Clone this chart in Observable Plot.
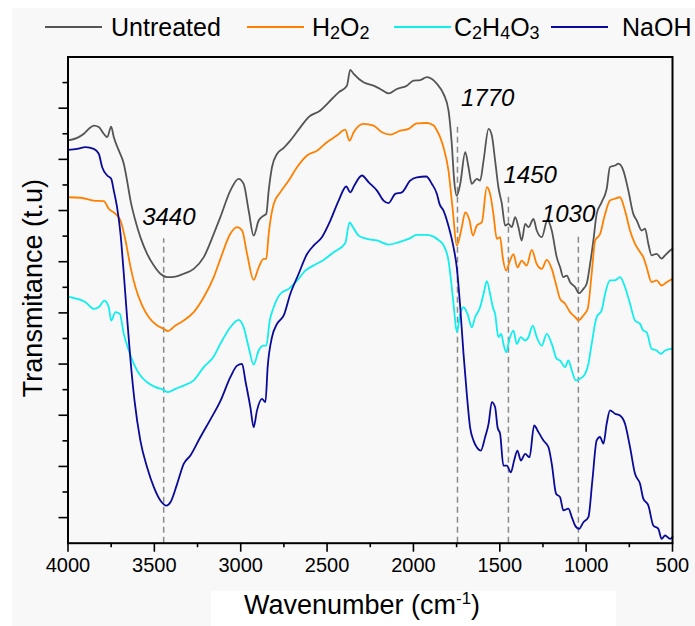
<!DOCTYPE html>
<html>
<head>
<meta charset="utf-8">
<script src="https://cdn.jsdelivr.net/npm/d3@7"></script>
<script src="https://cdn.jsdelivr.net/npm/@observablehq/plot@0.6"></script>
<style>
  html, body { margin: 0; padding: 0; background: #ffffff; }
  #wrap { position: relative; width: 695px; height: 626px; overflow: hidden; font-family: "Liberation Sans", Arial, sans-serif; color: #000; }
  #bg { position: absolute; left: 12px; top: 8px; width: 683px; height: 618px; background: #f8f8f8; }
  #legend { position: absolute; left: 0; top: 0; width: 695px; height: 50px; }
  .lg-line { position: absolute; height: 0; border-top: 2px solid; }
  .lg-text { position: absolute; font-size: 25px; line-height: 1; transform: translateY(-50%); white-space: nowrap; }
  .lg-text sub { font-size: 0.72em; vertical-align: -0.18em; line-height: 0; }
  #chart { position: absolute; left: 0; top: 50px; }
  #xbox { position: absolute; left: 211px; width: 405px; top: 591px; height: 35px; background: #ffffff; }
  #xlabel { position: absolute; left: 362px; top: 605px; transform: translate(-50%, -50%); font-size: 27px; white-space: nowrap; line-height: 1; }
  #xlabel sup { font-size: 0.62em; vertical-align: 0.55em; line-height: 0; }
</style>
</head>
<body>
<div id="wrap">
  <div id="bg"></div>
  <div id="xbox"></div>
  <div id="legend"></div>
  <div id="chart"></div>
  <div id="xlabel">Wavenumber (cm<sup>-1</sup>)</div>
</div>
<script>
// ---------------- data ----------------
const seriesNames = ["Untreated", "H2O2", "C2H4O3", "NaOH"];
const seriesLabelsHtml = ["Untreated", "H<sub>2</sub>O<sub>2</sub>", "C<sub>2</sub>H<sub>4</sub>O<sub>3</sub>", "NaOH"];
const seriesColors = ["#555555", "#ff8000", "#10eeee", "#0a0a9a"];

const untreatedWn = [4000,3947,3908,3880,3850,3822,3793,3773,3750,3735,3706,3677,3658,3638,3610,3581,3542,3503,3465,3426,3378,3330,3272,3214,3156,3118,3060,3012,2983,2954,2925,2896,2867,2852,2838,2819,2790,2751,2713,2655,2607,2539,2491,2433,2385,2366,2346,2289,2231,2192,2144,2096,2038,2000,1961,1922,1893,1864,1826,1797,1778,1764,1749,1729,1700,1681,1662,1633,1614,1594,1565,1546,1527,1508,1488,1469,1450,1431,1411,1392,1373,1353,1334,1305,1286,1257,1224,1199,1170,1151,1132,1112,1093,1064,1041,1016,997,977,958,939,910,881,862,833,813,785,756,727,707,678,659,640,621,592,563,543,514,500];
const untreatedT  = [15.74,15.84,16.00,16.19,16.32,16.26,16.00,15.87,16.28,15.87,15.35,14.83,14.17,13.39,12.61,11.96,11.31,10.85,10.53,10.40,10.42,10.53,10.72,11.18,12.09,12.74,13.78,14.24,14.04,13.00,12.02,12.61,12.80,12.87,13.78,14.69,15.21,15.45,15.73,16.25,16.65,16.91,17.23,17.62,17.88,18.50,18.34,18.01,17.88,17.75,17.58,17.75,17.88,18.08,18.10,18.21,18.14,17.95,17.56,16.91,15.60,14.17,13.58,14.04,15.28,14.69,14.04,14.24,14.17,14.95,16.19,15.93,14.95,13.91,13.26,12.41,12.48,12.35,12.74,12.35,11.83,12.48,12.35,12.67,12.22,11.96,12.63,12.22,11.17,10.79,10.40,10.46,10.20,10.01,9.77,9.94,10.14,10.92,11.83,12.87,13.33,13.85,14.70,14.76,14.83,14.57,13.79,12.87,12.61,12.22,12.29,11.70,11.25,11.31,11.12,11.25,11.44,11.51];

const h2o2Wn = [4000,3928,3851,3793,3764,3725,3696,3667,3638,3610,3571,3532,3484,3446,3422,3378,3330,3272,3214,3156,3118,3060,3021,2992,2963,2925,2896,2867,2852,2838,2809,2771,2722,2674,2616,2558,2501,2443,2395,2370,2346,2289,2231,2182,2134,2076,2028,1980,1922,1883,1864,1845,1826,1797,1772,1749,1720,1700,1675,1656,1633,1604,1575,1556,1537,1517,1498,1483,1463,1444,1421,1398,1373,1344,1315,1286,1257,1228,1199,1170,1151,1122,1093,1064,1045,1016,991,968,948,919,890,862,833,804,775,746,717,688,669,650,621,592,563,534,500];
const h2o2T  = [13.52,13.50,13.39,13.37,13.07,12.87,12.61,11.83,10.79,10.01,9.29,8.83,8.51,8.38,8.29,8.51,8.70,9.03,9.61,10.40,11.10,12.09,12.35,12.22,11.30,10.29,10.78,11.11,11.11,12.09,13.26,13.71,14.17,14.69,15.15,15.34,15.67,15.93,16.16,15.73,16.06,16.39,16.32,16.06,15.97,16.12,16.19,16.41,16.42,16.32,16.13,15.86,15.47,14.56,13.00,11.63,12.35,12.93,12.61,12.02,12.41,12.54,13.91,13.65,12.87,11.89,11.96,11.17,10.65,10.98,11.30,10.78,11.04,10.85,11.46,10.91,10.72,11.07,10.72,10.00,9.55,9.36,9.03,8.84,8.71,8.90,9.16,10.53,11.83,12.09,12.87,13.39,13.46,13.52,13.00,12.22,11.70,11.38,11.18,10.79,10.20,10.27,10.07,10.20,10.33];

const c2h4o3Wn = [4000,3947,3899,3851,3822,3789,3764,3750,3725,3700,3677,3648,3619,3581,3542,3494,3446,3422,3378,3330,3272,3214,3156,3118,3060,3012,2983,2954,2925,2896,2867,2852,2832,2809,2771,2722,2674,2626,2568,2520,2462,2395,2370,2350,2317,2269,2211,2144,2086,2028,1980,1922,1883,1855,1826,1797,1778,1764,1749,1729,1710,1687,1662,1643,1614,1594,1575,1556,1540,1527,1508,1492,1479,1463,1444,1421,1402,1378,1353,1334,1309,1286,1257,1228,1199,1170,1151,1122,1103,1083,1060,1035,1006,987,968,939,910,890,862,833,804,775,746,717,688,669,650,621,592,567,543,500];
const c2h4o3T  = [9.64,9.55,9.42,9.16,9.22,9.48,9.22,8.70,9.03,8.96,8.18,7.53,7.01,6.55,6.29,6.10,5.99,5.90,6.03,6.16,6.36,6.88,7.30,7.79,8.44,8.73,8.44,7.66,6.98,7.53,7.72,7.72,8.70,9.22,9.74,9.94,10.26,10.65,10.89,11.07,11.37,11.72,12.54,12.35,12.02,11.89,11.83,11.67,11.76,11.89,12.05,12.05,11.98,11.85,11.65,11.04,10.00,9.09,8.25,8.96,9.22,8.96,8.44,8.83,9.22,9.74,10.24,9.74,9.22,8.96,8.05,8.18,7.79,7.46,7.98,8.31,7.79,8.05,7.92,8.05,8.50,8.05,7.72,8.18,7.79,7.20,7.14,6.88,7.14,6.75,6.36,6.43,6.62,7.01,7.79,8.84,9.10,9.75,10.27,10.27,10.40,10.01,9.36,8.70,8.57,8.31,8.25,7.60,7.53,7.40,7.53,7.60];

const naohWn = [4000,3947,3899,3851,3822,3802,3773,3750,3735,3716,3696,3677,3658,3638,3615,3581,3542,3503,3465,3430,3407,3368,3330,3291,3234,3176,3118,3060,3021,2992,2973,2944,2925,2906,2877,2857,2844,2819,2790,2751,2713,2665,2616,2578,2530,2481,2433,2389,2366,2343,2298,2260,2211,2173,2144,2105,2067,2019,1980,1926,1893,1864,1849,1826,1797,1768,1749,1729,1710,1691,1672,1652,1633,1610,1585,1565,1546,1527,1513,1498,1479,1459,1436,1417,1398,1378,1353,1328,1301,1276,1247,1218,1199,1174,1151,1132,1103,1083,1064,1041,1016,987,964,939,920,900,881,862,833,804,775,746,717,688,669,640,611,582,563,543,514,500];
const naohT  = [15.37,15.41,15.48,15.41,15.22,14.69,14.37,14.24,13.78,13.13,12.09,10.53,8.83,7.14,5.58,4.01,2.97,2.19,1.67,1.47,1.60,2.32,3.10,3.43,4.14,4.83,5.55,6.49,6.94,7.01,6.35,5.31,4.53,5.18,5.64,5.51,6.88,8.05,8.57,8.90,9.74,10.52,11.30,11.63,11.96,12.61,13.39,13.94,13.71,13.97,14.37,14.11,13.78,13.39,13.29,13.65,13.71,14.17,14.30,14.33,14.04,13.65,13.26,13.00,12.40,11.57,10.78,9.22,7.40,5.83,4.53,4.01,3.75,3.62,4.14,4.66,5.51,5.31,4.53,4.27,3.03,3.03,2.77,3.23,3.62,3.23,3.49,3.36,4.60,4.34,4.01,3.75,3.10,1.93,1.80,1.28,1.35,1.02,0.69,0.56,0.82,1.02,2.45,4.02,4.15,3.89,4.67,5.19,5.06,4.99,4.67,3.76,2.71,2.32,1.74,1.48,0.69,0.56,0.17,0.30,0.17,0.24];

// peak annotations
const peakLabels = ["3440", "1770", "1450", "1030"];
const peakLineWn = [3446, 1745, 1450, 1045];
const peakLineTop = [11.90, 16.39, 13.52, 11.96];
const peakLabelWn = [3416, 1570, 1324, 1102];
const peakLabelT = [12.73, 17.38, 14.37, 12.85];

// axis ticks
const xTicks = [4000, 3500, 3000, 2500, 2000, 1500, 1000, 500];
const xMinorTicks = [3750, 3250, 2750, 2250, 1750, 1250, 750];
const yMajorTicks = [1, 3, 5, 7, 9, 11, 13, 15, 17];
const yMinorTicks = [2, 4, 6, 8, 10, 12, 14, 16, 18];
const yLabel = "Transmitance (t.u)";

// ---------------- build ----------------
const wnArrays = [untreatedWn, h2o2Wn, c2h4o3Wn, naohWn];
const tArrays = [untreatedT, h2o2T, c2h4o3T, naohT];
const rows = [];
seriesNames.forEach((name, i) => {
  wnArrays[i].forEach((w, j) => rows.push({series: name, wn: w, t: tArrays[i][j]}));
});

// legend (HTML, above the SVG)
const legendLine = [[45, 57], [247, 57], [394, 57], [551, 57]];
const legendText = [111, 312, 454, 622];
const legend = document.getElementById("legend");
seriesNames.forEach((name, i) => {
  const ln = document.createElement("div");
  ln.className = "lg-line";
  ln.style.left = legendLine[i][0] + "px";
  ln.style.width = legendLine[i][1] + "px";
  ln.style.top = "26px";
  ln.style.borderTopColor = seriesColors[i];
  legend.appendChild(ln);
  const tx = document.createElement("div");
  tx.className = "lg-text";
  tx.style.left = legendText[i] + "px";
  tx.style.top = "27px";
  tx.innerHTML = seriesLabelsHtml[i];
  legend.appendChild(tx);
});

const fmt = d => String(d);
const chart = Plot.plot({
  width: 695,
  height: 530,
  marginLeft: 67.5,
  marginRight: 23,
  marginTop: 6.5,
  marginBottom: 37.3,
  style: {background: "transparent", fontFamily: "'Liberation Sans', Arial, sans-serif", fontSize: "20px", color: "#000", overflow: "visible"},
  x: {domain: [4000, 500]},
  y: {domain: [0, 19]},
  color: {domain: seriesNames, range: seriesColors},
  marks: [
    Plot.ruleX(peakLineWn, {x: peakLineWn, y1: 0, y2: peakLineTop, stroke: "#8a8a8a", strokeWidth: 1.5, strokeDasharray: "6,4"}),
    Plot.line(rows, {x: "wn", y: "t", z: "series", stroke: "series", strokeWidth: 1.8, curve: "monotone-x"}),
    Plot.text(peakLabels, {x: peakLabelWn, y: peakLabelT, text: peakLabels, fontStyle: "italic", fontSize: 24, fill: "#000"}),
    Plot.text([yLabel], {frameAnchor: "left", textAnchor: "middle", rotate: -90, dx: -35, dy: -12, fontSize: 27, fill: "#000"}),
    Plot.axisX(xTicks, {tickSize: 9, tickPadding: 6, fontSize: 20, tickFormat: fmt, label: null, strokeWidth: 1.6}),
    Plot.axisX(xMinorTicks, {tickSize: 4.5, tickFormat: () => "", label: null, strokeWidth: 1.6}),
    Plot.axisY(yMajorTicks, {tickSize: 9, tickFormat: () => "", label: null, strokeWidth: 1.6}),
    Plot.axisY(yMinorTicks, {tickSize: 5, tickFormat: () => "", label: null, strokeWidth: 1.6}),
    Plot.frame({stroke: "#000", strokeWidth: 2})
  ]
});
document.getElementById("chart").appendChild(chart);
</script>
</body>
</html>
